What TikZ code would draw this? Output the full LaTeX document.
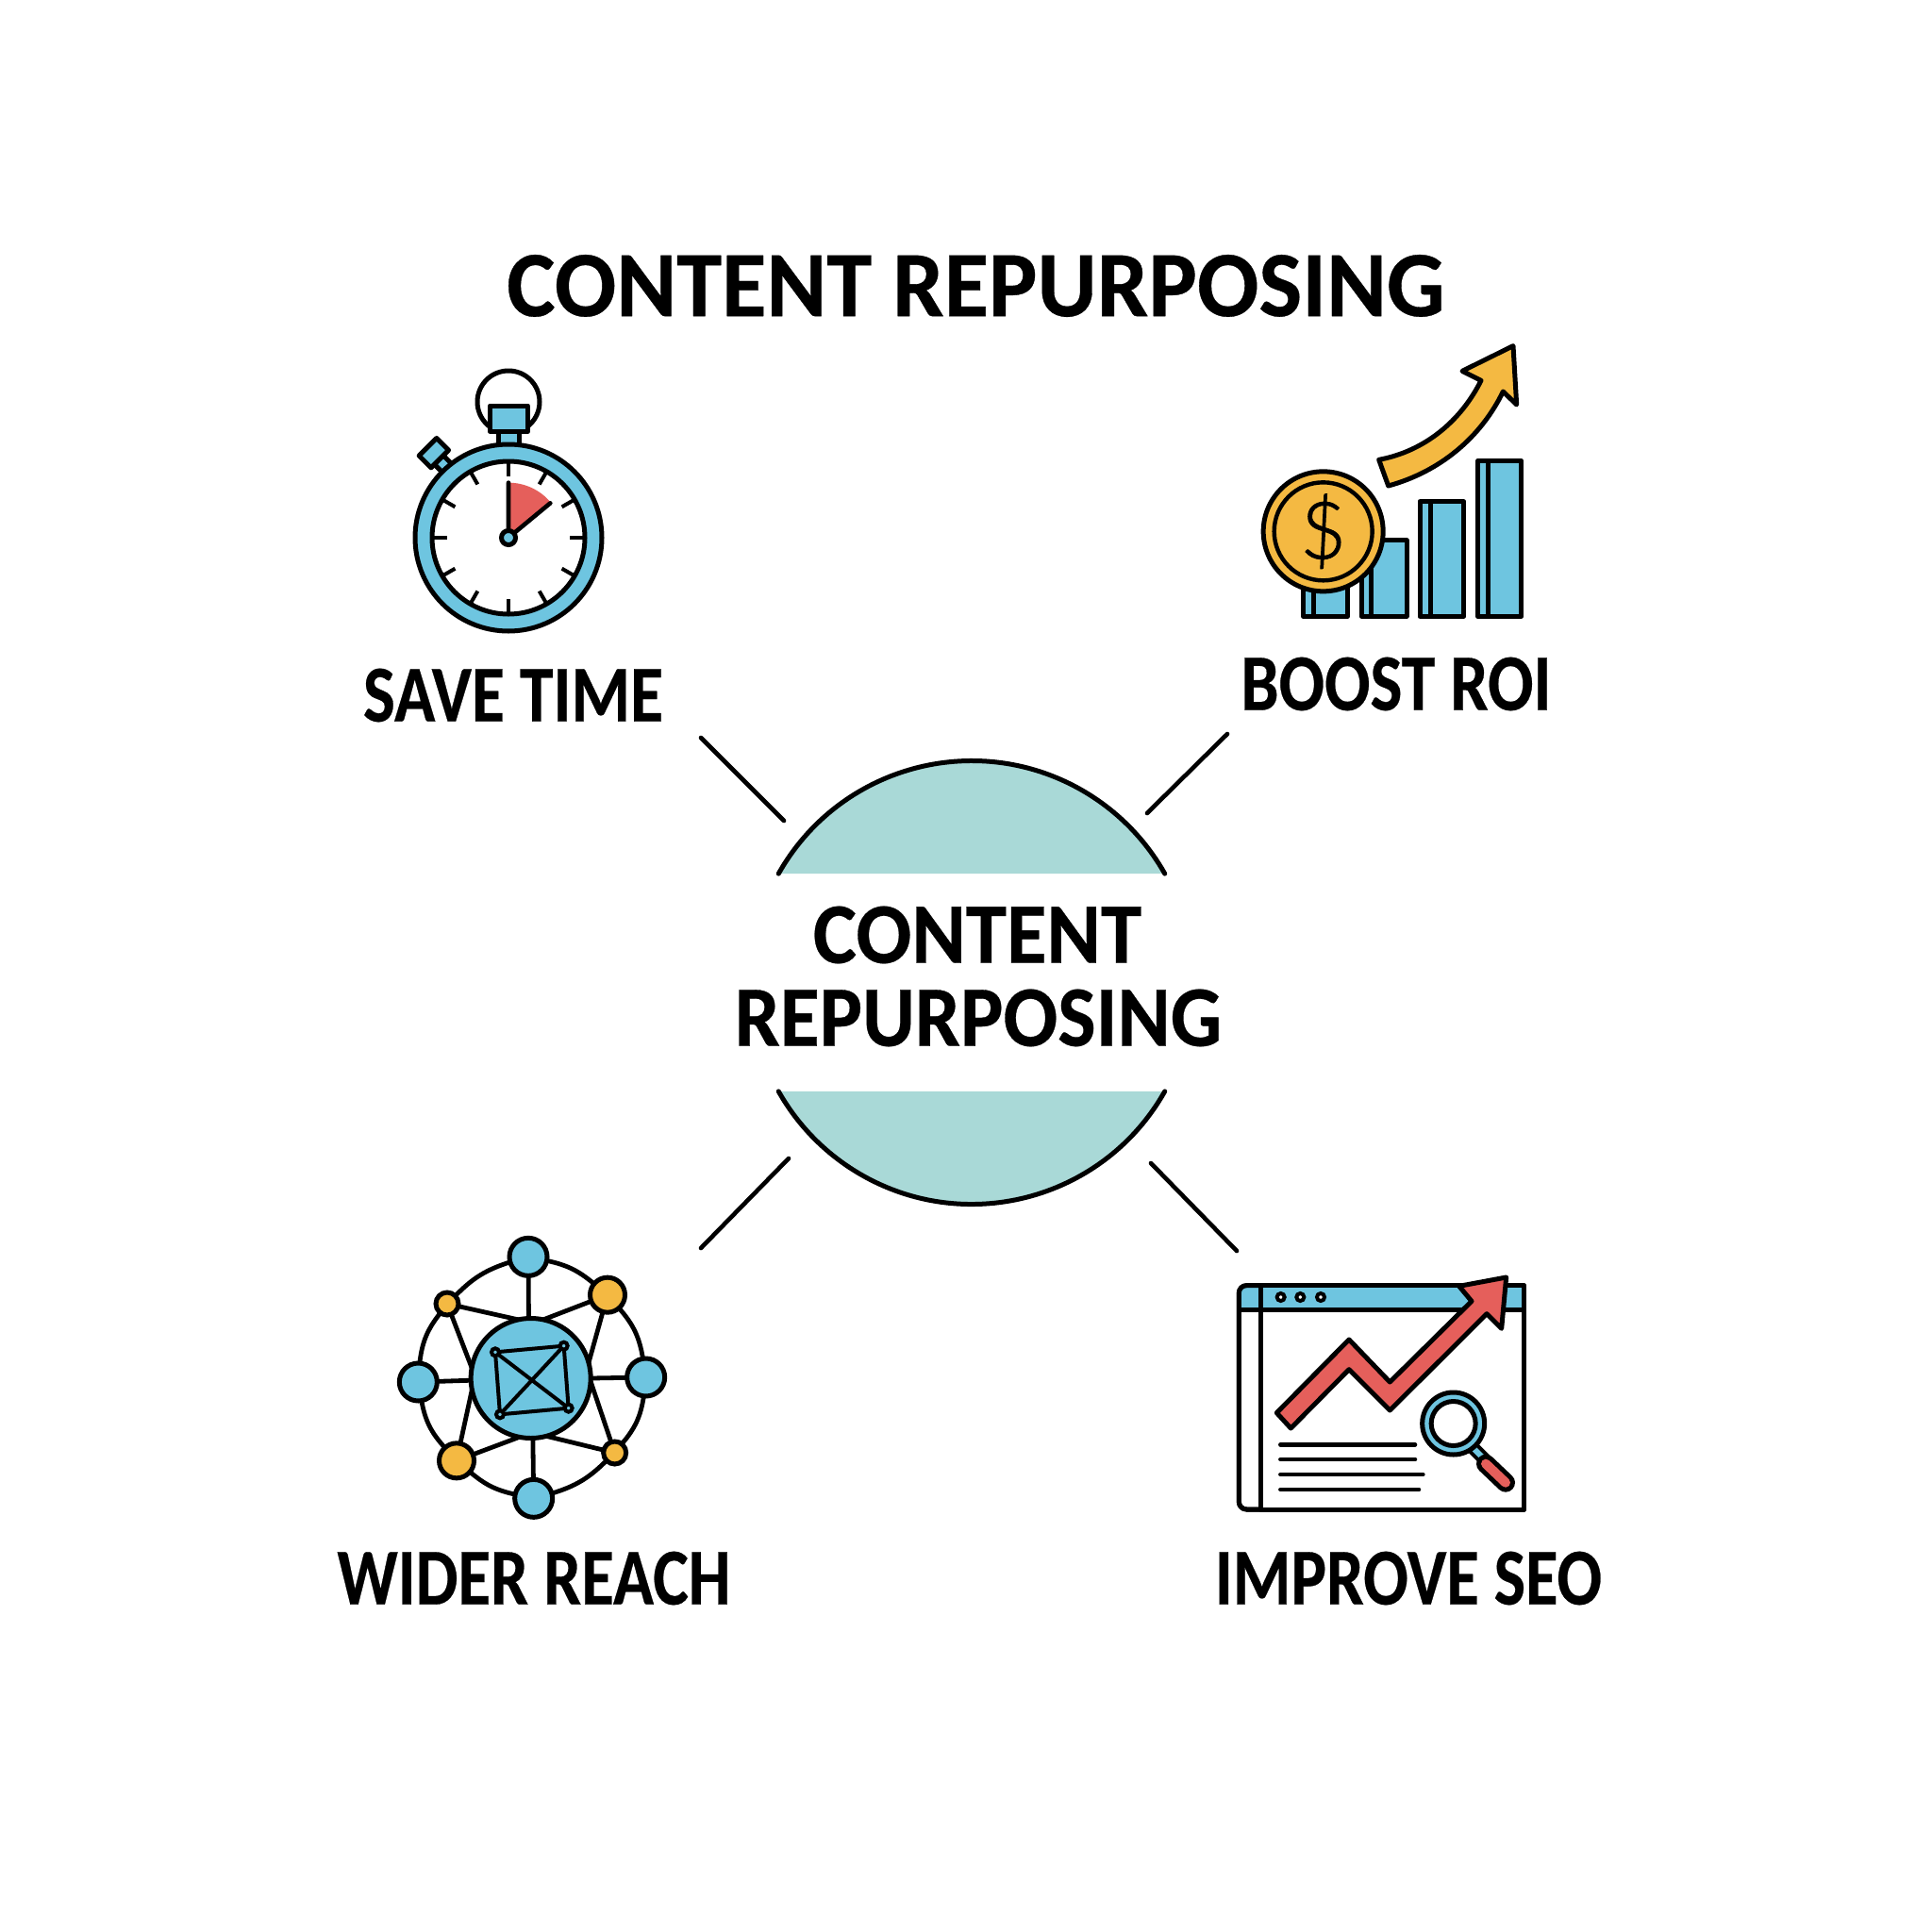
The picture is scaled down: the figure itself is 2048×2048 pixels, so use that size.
\documentclass[tikz,border=0pt]{standalone}
\usepackage{fontspec}
\usepackage{graphicx}
\setmainfont{Carlito}[BoldFeatures={FakeBold=0.35}]
\newfontfamily\dollarfont{Lato Light}[FakeBold=1.2]
\usetikzlibrary{calc}
\definecolor{ablue}{HTML}{6EC5E0}
\definecolor{ayel}{HTML}{F4B942}
\definecolor{ared}{HTML}{E55F5B}
\definecolor{ateal}{HTML}{A9D9D7}
\newcommand{\fittext}[3]{\resizebox{#1pt}{#2pt}{\bfseries #3}}
\tikzset{
  ink/.style={draw=black,line width=5pt,line join=round},
  spoke/.style={draw=black,line width=4.8pt},
  linkline/.style={draw=black,line width=4pt},
  sat/.style={circle,draw=black,line width=5pt,inner sep=0pt,outer sep=0pt,fill=#1},
  lbl/.style={inner sep=0pt,outer sep=0pt,text=black},
  rule/.style={draw=black,line width=4.6pt,line cap=round},
  zoomed/.style={x=0.33333pt,y=-0.33333pt}
}
\begin{document}
\begin{tikzpicture}[x=1pt,y=-1pt]
\useasboundingbox[fill=white] (0,0) rectangle (2048,2048);
% labels
\node[lbl] (title) at (1034.5,303) {\fittext{994}{65}{CONTENT REPURPOSING}};
\node[lbl] (save) at (544,737) {\fittext{318}{56}{SAVE TIME}};
\node[lbl] (boost) at (1480,725) {\fittext{329}{56}{BOOST ROI}};
\node[lbl] (wider) at (566,1673) {\fittext{417}{56}{WIDER REACH}};
\node[lbl] (seo) at (1493,1673) {\fittext{410}{56}{IMPROVE SEO}};
% hub
\coordinate (hub) at (1030,1041.5);
\fill[ateal] ($(hub)+(209.4:235)$) arc[start angle=209.4,end angle=330.6,radius=235] -- cycle;
\draw[rule,line width=5pt] ($(hub)+(209.4:235)$) arc[start angle=209.4,end angle=330.6,radius=235];
\fill[ateal] ($(hub)+(29.4:235)$) arc[start angle=29.4,end angle=150.6,radius=235] -- cycle;
\draw[rule,line width=5pt] ($(hub)+(29.4:235)$) arc[start angle=29.4,end angle=150.6,radius=235];
\node[lbl] (hubA) at (1036,991) {\fittext{348}{60}{CONTENT}};
\node[lbl] (hubB) at (1037,1079) {\fittext{516}{60}{REPURPOSING}};
% connectors
\coordinate (a1) at (743,782); \coordinate (a2) at (831,870);
\coordinate (b1) at (1301,778); \coordinate (b2) at (1216,862);
\coordinate (c1) at (836,1228); \coordinate (c2) at (743,1323);
\coordinate (d1) at (1220,1233); \coordinate (d2) at (1311,1326);
\draw[rule] (a1)--(a2);
\draw[rule] (b1)--(b2);
\draw[rule] (c1)--(c2);
\draw[rule] (d1)--(d2);

% stopwatch
\begin{scope}[shift={(400,370)},zoomed]
\coordinate (sw) at (417,600);
\draw[ink,fill=white] (417,168) circle (33pt);
\draw[ink,fill=ablue] (385,262) rectangle (450,310);
\draw[ink,fill=ablue] (358,180) rectangle (478,262);
\draw[ink,fill=ablue,rotate around={45:(205,362)}] (185,335) rectangle (225,395);
\draw[ink,fill=ablue,rotate around={45:(180,330)}] (140,303) rectangle (219,357);
\draw[ink,fill=ablue] (sw) circle (99pt);
\draw[ink,fill=white] (sw) circle (81pt);
\foreach \a in {0,30,...,330}{
  \draw[black,line width=4pt] ($(sw)+(\a:240)$) -- ($(sw)+(\a:196)$);
}
\fill[ared] (sw) -- (417,425) arc[start angle=-90,end angle=-40,radius=175] -- cycle;
\draw[black,line width=4.6pt,line cap=round,line join=round] (417,425) -- (sw) -- (550,490);
\node[sat=ablue,minimum size=15pt] (pivot) at (sw) {};
\end{scope}

% boost ROI
\begin{scope}[shift={(1310,350)},zoomed]
\draw[ink,fill=ablue] (215,780) rectangle (355,910);
\draw[ink] (247,780) -- (247,910);
\draw[ink,fill=ablue] (400,668) rectangle (543,910);
\draw[ink] (430,668) -- (430,910);
\draw[ink,fill=ablue] (585,545) rectangle (725,910);
\draw[ink] (618,545) -- (618,910);
\draw[ink,fill=ablue] (770,415) rectangle (908,910);
\draw[ink] (803,415) -- (803,910);
\draw[ink,fill=ayel] (455,412) .. controls (600,385) and (715,290) .. (780,160)
  -- (720,130) -- (882,50) -- (893,237) -- (850,195)
  .. controls (780,340) and (650,450) .. (485,495) -- cycle;
\node[sat=ayel,minimum size=127pt] (coin) at (278,640) {};
\node[circle,draw=black,line width=4.4pt,minimum size=104pt,inner sep=0pt] (coinin) at (278,640) {};
\node[inner sep=0pt] (dollar) at (278,640) {\fontsize{84}{84}\selectfont\dollarfont\$};
\end{scope}

% wider reach
\begin{scope}[shift={(410,1300)},zoomed]
\node[sat=ablue,minimum size=127pt] (hubn) at (458,483) {};
\node[sat=ablue,minimum size=40pt] (n1) at (450,97) {};
\node[sat=ayel,minimum size=37pt] (n2) at (702,218) {};
\node[sat=ablue,minimum size=40pt] (n3) at (824,480) {};
\node[sat=ayel,minimum size=24pt] (n4) at (725,720) {};
\node[sat=ablue,minimum size=40pt] (n5) at (467,865) {};
\node[sat=ayel,minimum size=37pt] (n6) at (222,745) {};
\node[sat=ablue,minimum size=40pt] (n7) at (100,495) {};
\node[sat=ayel,minimum size=24pt] (n8) at (192,246) {};
\draw[spoke] (n1) to[bend left=14] (n2);
\draw[spoke] (n2) to[bend left=16] (n3);
\draw[spoke] (n3) to[bend left=16] (n4);
\draw[spoke] (n4) to[bend left=14] (n5);
\draw[spoke] (n5) to[bend left=14] (n6);
\draw[spoke] (n6) to[bend left=16] (n7);
\draw[spoke] (n7) to[bend left=16] (n8);
\draw[spoke] (n8) to[bend left=14] (n1);
\draw[spoke] (n1) -- (hubn.92);
\draw[spoke] (n2) -- (hubn.78);
\draw[spoke] (n8) -- (hubn.102);
\draw[spoke] (n8) -- (hubn.170);
\draw[spoke] (n2) -- (hubn.15);
\draw[spoke] (n3) -- (hubn.0);
\draw[spoke] (n4) -- (hubn.-3);
\draw[spoke] (n4) -- (hubn.-75);
\draw[spoke] (n5) -- (hubn.-88);
\draw[spoke] (n6) -- (hubn.-101);
\draw[spoke] (n6) -- (hubn.191);
\draw[spoke] (n7) -- (hubn.182);
\node[sat=ablue,line width=4pt,minimum size=8pt] (k1) at (345,400) {};
\node[sat=ablue,line width=4pt,minimum size=8pt] (k2) at (563,380) {};
\node[sat=ablue,line width=4pt,minimum size=8pt] (k3) at (578,578) {};
\node[sat=ablue,line width=4pt,minimum size=8pt] (k4) at (360,598) {};
\draw[linkline] (k1)--(k2);
\draw[linkline] (k2)--(k3);
\draw[linkline] (k3)--(k4);
\draw[linkline] (k4)--(k1);
\draw[linkline] (k1)--(k3);
\draw[linkline] (k2)--(k4);
\end{scope}

% SEO
\begin{scope}[shift={(1300,1340)},zoomed]
\draw[ink,fill=white,rounded corners=8pt] (110,68) -- (40,68) -- (40,780) -- (110,780);
\draw[ink,fill=white] (110,68) rectangle (945,780);
\fill[ablue,rounded corners=8pt] (110,68) -- (40,68) -- (40,145) -- (110,145) -- cycle;
\fill[ablue] (110,68) rectangle (945,145);
\draw[ink,rounded corners=8pt] (110,68) -- (40,68) -- (40,780) -- (110,780);
\draw[ink] (40,145) -- (945,145);
\draw[ink] (110,68) -- (945,68) -- (945,780) -- (110,780);
\draw[ink] (110,68) -- (110,780);
\foreach \x/\n in {173/w1,235/w2,300/w3}{
  \node[sat=white,line width=4pt,minimum size=8pt] (\n) at (\x,105) {};
}
\draw[ink,fill=ared] (160,473) -- (390,240) -- (520,375) -- (780,118) -- (740,70)
  -- (890,42) -- (875,205) -- (828,158) -- (520,465) -- (390,335) -- (205,522) -- cycle;
\draw[rule] (172,574) -- (600,574);
\draw[rule] (172,621) -- (600,621);
\draw[rule] (172,669) -- (625,669);
\draw[rule] (172,717) -- (612,717);
\draw[black,line width=14pt] (785,585) -- (825,625);
\draw[ablue,line width=6pt] (785,585) -- (825,625);
\draw[black,line width=20pt,line cap=round] (825,635) -- (888,695);
\draw[ared,line width=10pt,line cap=round] (825,635) -- (888,695);
\draw[ink,fill=ablue] (722,507) circle (33pt);
\draw[ink,fill=white] (722,507) circle (23.5pt);
\end{scope}
\end{tikzpicture}
\end{document}
